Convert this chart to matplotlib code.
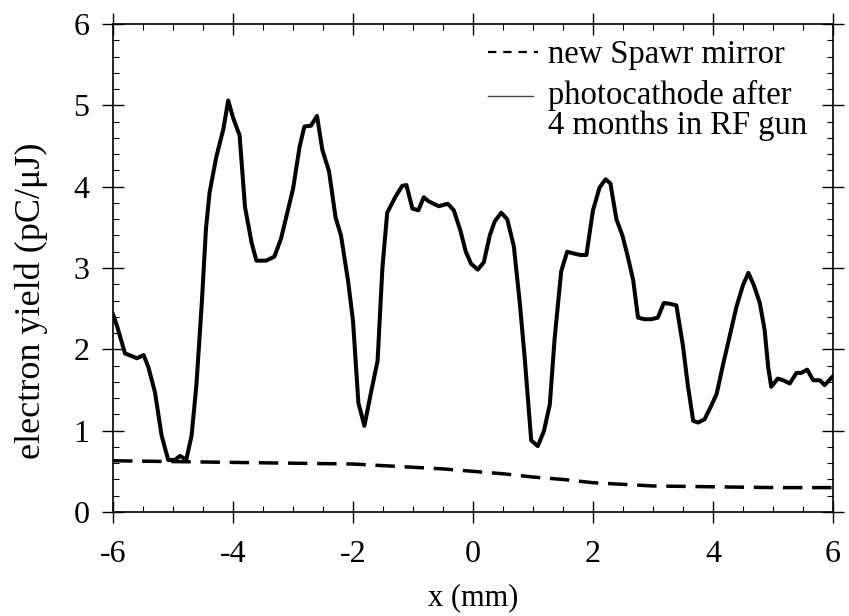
import matplotlib
matplotlib.use("Agg")
import matplotlib.pyplot as plt
from matplotlib.ticker import MultipleLocator

# ---- data ----
solid_x = [-6.0, -5.93, -5.80, -5.60, -5.49, -5.41, -5.30, -5.19, -5.08, -4.97, -4.88, -4.78,
           -4.69, -4.61, -4.52, -4.45, -4.39, -4.28, -4.16, -4.08, -4.00, -3.89, -3.80, -3.69,
           -3.61, -3.45, -3.31, -3.20, -3.00, -2.89, -2.81, -2.70, -2.60, -2.51, -2.40, -2.29,
           -2.20, -2.08, -2.00, -1.91, -1.81, -1.70, -1.59, -1.51, -1.43, -1.29, -1.18, -1.11,
           -1.01, -0.91, -0.82, -0.74, -0.57, -0.42, -0.32, -0.21, -0.12, -0.03, 0.08, 0.18,
           0.28, 0.36, 0.47, 0.57, 0.68, 0.78, 0.86, 0.97, 1.08, 1.18, 1.28, 1.36, 1.47, 1.57,
           1.67, 1.79, 1.89, 2.00, 2.11, 2.21, 2.29, 2.39, 2.49, 2.58, 2.67, 2.75, 2.86, 2.97,
           3.08, 3.18, 3.28, 3.39, 3.50, 3.58, 3.67, 3.75, 3.86, 3.96, 4.06, 4.17, 4.28, 4.39,
           4.50, 4.59, 4.68, 4.78, 4.86, 4.92, 4.97, 5.08, 5.17, 5.28, 5.39, 5.47, 5.57, 5.67,
           5.78, 5.86, 6.0]
solid_y = [2.43, 2.28, 1.95, 1.89, 1.93, 1.78, 1.47, 0.94, 0.64, 0.64, 0.69, 0.64,
           0.94, 1.56, 2.57, 3.49, 3.93, 4.36, 4.71, 5.06, 4.85, 4.63, 3.75, 3.31,
           3.09, 3.09, 3.14, 3.36, 3.97, 4.49, 4.74, 4.75, 4.87, 4.45, 4.19, 3.62,
           3.40, 2.83, 2.35, 1.34, 1.06, 1.47, 1.86, 3.00, 3.68, 3.88, 4.01, 4.02,
           3.73, 3.71, 3.87, 3.82, 3.76, 3.79, 3.71, 3.46, 3.20, 3.05, 2.98, 3.07,
           3.40, 3.57, 3.68, 3.60, 3.27, 2.57, 1.91, 0.88, 0.81, 0.99, 1.32, 2.13, 2.96, 3.20,
           3.18, 3.16, 3.16, 3.71, 3.99, 4.09, 4.04, 3.60, 3.40, 3.14, 2.85, 2.39, 2.37, 2.37,
           2.39, 2.57, 2.56, 2.54, 2.04, 1.56, 1.12, 1.10, 1.14, 1.29, 1.45, 1.82, 2.17, 2.52,
           2.79, 2.94, 2.79, 2.57, 2.24, 1.78, 1.54, 1.64, 1.62, 1.58, 1.71, 1.71, 1.75, 1.62,
           1.62, 1.56, 1.67]

dashed_x = [-6.0, -5.0, -4.0, -3.0, -2.0, -1.5, -1.0, -0.5, 0.0, 0.5, 1.0, 1.5, 2.0, 2.5, 3.0, 4.0, 5.0, 6.0]
dashed_y = [0.63, 0.62, 0.61, 0.60, 0.59, 0.57, 0.55, 0.53, 0.50, 0.47, 0.43, 0.40, 0.36, 0.34, 0.32, 0.31, 0.30, 0.30]

x_ticks = [-6, -4, -2, 0, 2, 4, 6]
y_ticks = [0, 1, 2, 3, 4, 5, 6]
label_dashed = "new Spawr mirror"
label_solid_1 = "photocathode after"
label_solid_2 = "4 months in RF gun"
xlabel = "x (mm)"
ylabel = "electron yield (pC/\u03bcJ)"

plt.rcParams['font.family'] = ['Liberation Serif', 'DejaVu Serif']
plt.rcParams['lines.scale_dashes'] = False
plt.rcParams['axes.unicode_minus'] = False

fig = plt.figure(figsize=(8.49, 6.16), dpi=100)
W, H = 849, 616
ax = fig.add_axes([113 / W, 1 - 512 / H, 720 / W, 488 / H])

ax.plot(solid_x, solid_y, color='black', lw=2.9, solid_joinstyle='round')
ax.plot(dashed_x, dashed_y, color='black', lw=2.5, dashes=(14, 7))

ax.set_xlim(-6, 6)
ax.set_ylim(0, 6)
ax.set_xticks(x_ticks)
ax.set_yticks(y_ticks)
ax.xaxis.set_minor_locator(MultipleLocator(0.5))
ax.yaxis.set_minor_locator(MultipleLocator(0.2))
ax.tick_params(which='major', direction='inout', length=16, width=1.0,
               top=True, right=True, labelsize=23)
ax.tick_params(axis='x', which='major', pad=12)
ax.tick_params(axis='y', which='major', pad=9)
ax.tick_params(which='minor', direction='in', length=4.5, width=0.8, top=True, right=True)
for s in ax.spines.values():
    s.set_linewidth(1.2)

ax.set_xlabel(xlabel, fontsize=22)
ax.xaxis.set_label_coords(0.5, -0.146)
ax.set_ylabel(ylabel, fontsize=26)
ax.yaxis.set_label_coords(-0.090, 0.433)

# legend (drawn manually, no frame)
ax.plot([0.521, 0.590], [0.943, 0.943], transform=ax.transAxes, color='black',
        lw=1.6, dashes=(6, 5))
ax.text(0.604, 0.920, label_dashed, transform=ax.transAxes, fontsize=23.5, va='baseline')
ax.plot([0.521, 0.583], [0.852, 0.852], transform=ax.transAxes, color='#444444', lw=1.0)
ax.text(0.604, 0.836, label_solid_1, transform=ax.transAxes, fontsize=23.5, va='baseline')
ax.text(0.604, 0.775, label_solid_2, transform=ax.transAxes, fontsize=23.5, va='baseline')

fig.savefig("out.png", dpi=100)
